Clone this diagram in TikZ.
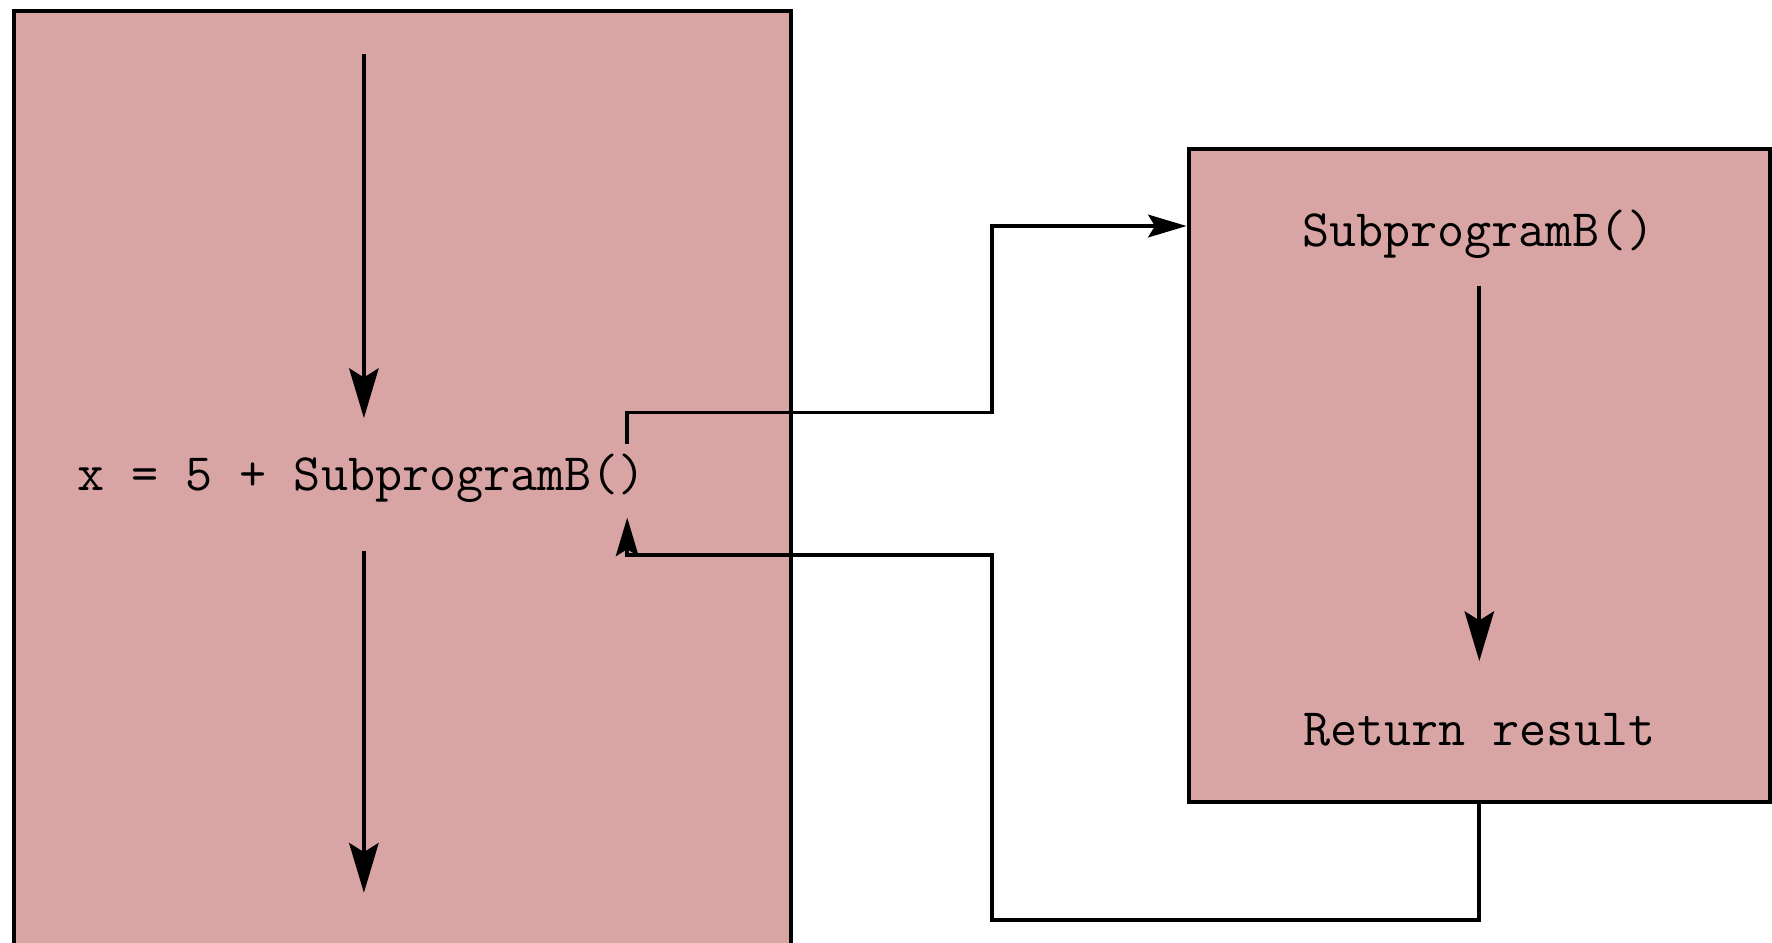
\documentclass[tikz,border=0pt]{standalone}
\usetikzlibrary{arrows.meta}
\definecolor{boxfill}{HTML}{D8A4A4}
\begin{document}
\begin{tikzpicture}[x=1pt,y=-1pt,
  prog/.style={draw=black,line width=3.5pt,fill=boxfill},
  code/.style={font=\ttfamily\fontsize{46.5}{56}\selectfont,inner sep=0pt,anchor=center},
  flow/.style={line width=3.5pt,-{Stealth[length=44pt,width=26pt,inset=8pt]}},
  link/.style={line width=3.5pt,-{Stealth[length=34pt,width=20pt,inset=6pt]}}]
\useasboundingbox (0,0) rectangle (1568,834);
\clip (0,0) rectangle (1568,834);
\fill[white] (0,0) rectangle (1568,834);
% boxes
\draw[prog] (12,10) rectangle (700,860);
\draw[prog] (1052,132) rectangle (1566,710);
% texts
\node[code] (call) at (320,423) {x = 5 + SubprogramB()};
\node[code] (head) at (1308,207) {SubprogramB()};
\node[code] (ret) at (1309,646) {Return result};
% coordinates
\coordinate (a1) at (322,48);
\coordinate (a2) at (322,370);
\coordinate (b1) at (322,488);
\coordinate (b2) at (322,790);
\coordinate (c1) at (1309,253);
\coordinate (c2) at (1309,585);
\coordinate (cs) at (555,393);
\coordinate (ct) at (1050,200);
\coordinate (rs) at (1309,710);
\coordinate (rt) at (555,458);
% flow arrows
\draw[flow] (a1) -- (a2);
\draw[flow] (b1) -- (b2);
\draw[flow] (c1) -- (c2);
% call and return
\draw[link,line join=miter] (cs) -- (555,365) -- (878,365) -- (878,200) -- (ct);
\draw[link,line join=miter] (rs) -- (1309,814) -- (878,814) -- (878,491) -- (555,491) -- (rt);
\end{tikzpicture}
\end{document}
